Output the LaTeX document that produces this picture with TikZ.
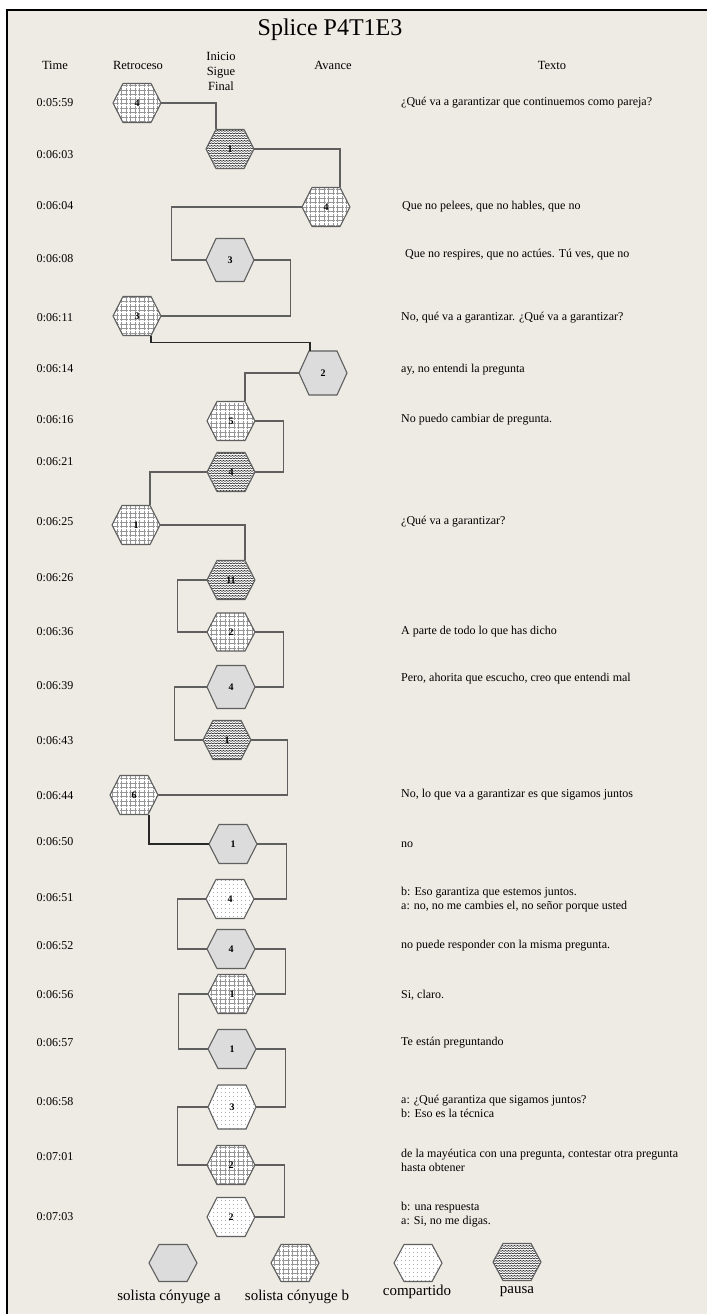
\documentclass[tikz,border=0pt]{standalone}
\usepackage{fontspec}
\setmainfont{Liberation Serif}
\usetikzlibrary{patterns,calc}
\definecolor{bgcol}{RGB}{238,235,228}
\definecolor{grayfill}{RGB}{220,220,220}
\definecolor{bordercol}{RGB}{95,95,95}
\definecolor{linecol}{RGB}{95,95,95}
\definecolor{darkline}{RGB}{40,40,40}
\definecolor{gridcol}{RGB}{150,150,150}
\pgfdeclarepatternformonly{hexgrid}{\pgfqpoint{-1pt}{-1pt}}{\pgfqpoint{5.5pt}{5.5pt}}{\pgfqpoint{4.5pt}{4.5pt}}{%
  \pgfsetlinewidth{0.4pt}\pgfsetdash{{2pt}{0.8pt}}{0pt}%
  \pgfpathmoveto{\pgfqpoint{0pt}{0pt}}\pgfpathlineto{\pgfqpoint{4.5pt}{0pt}}%
  \pgfpathmoveto{\pgfqpoint{0pt}{0pt}}\pgfpathlineto{\pgfqpoint{0pt}{4.5pt}}%
  \pgfusepath{stroke}}
\pgfdeclarepatternformonly{hexdots}{\pgfqpoint{0pt}{0pt}}{\pgfqpoint{4pt}{4pt}}{\pgfqpoint{4pt}{4pt}}{%
  \pgfpathcircle{\pgfqpoint{2pt}{2pt}}{0.45pt}\pgfusepath{fill}}
\pgfdeclarepatternformonly{hexzig}{\pgfqpoint{-0.5pt}{-0.5pt}}{\pgfqpoint{3.5pt}{2pt}}{\pgfqpoint{3pt}{2.5pt}}{%
  \pgfsetlinewidth{0.6pt}%
  \pgfpathmoveto{\pgfqpoint{0pt}{0pt}}\pgfpathlineto{\pgfqpoint{1.5pt}{1.2pt}}\pgfpathlineto{\pgfqpoint{3pt}{0pt}}%
  \pgfusepath{stroke}}
\newcommand\hexa[6]{%
  \path[#2] (#3-24,#4) -- (#3-14,#4-#6) -- (#3+14,#4-#6) -- (#3+24,#4) -- (#3+14,#4+#6) -- (#3-14,#4+#6) -- cycle;
  \node[hexlbl, minimum height=2*#6pt] (#1) at (#3,#4) {#5};}
\tikzset{
  hexline/.style={draw=bordercol, line width=1.1pt, line join=miter},
  hexA/.style={hexline, fill=grayfill},
  hexB/.style={hexline, preaction={fill=white}, preaction={pattern=hexgrid, pattern color=gridcol}},
  hexC/.style={hexline, preaction={fill=white}, preaction={pattern=hexdots, pattern color=black!75}},
  hexP/.style={hexline, preaction={fill=white}, preaction={pattern=hexzig, pattern color=black!80}},
  hexlbl/.style={rectangle, minimum width=48pt, inner sep=0pt, font=\fontsize{10}{11}\selectfont\bfseries},
  conn/.style={draw=linecol, line width=1.1pt},
  thickconn/.style={draw=darkline, line width=1.4pt},
  hdr/.style={font=\fontsize{12.5}{15}\selectfont, inner sep=0pt},
  tlbl/.style={font=\fontsize{12}{14}\selectfont, inner sep=0pt},
  txt/.style={font=\fontsize{12}{13.5}\selectfont, inner sep=0pt, anchor=west, align=left},
  leg/.style={font=\fontsize{15}{17}\selectfont, inner sep=0pt}
}
\begin{document}
\begin{tikzpicture}[x=1pt,y=-1pt]
\useasboundingbox (0,0) rectangle (707,1314);
\fill[white] (0,0) rectangle (707,1314);
\fill[bgcol] (7,10) rectangle (707,1314);
\draw[black, line width=1.6pt] (7,1314) -- (7,10) -- (707,10);
% headers
\node[font=\fontsize{24}{28}\selectfont, inner sep=0pt] (title) at (330,30) {Splice P4T1E3};
\node[hdr] (hTime) at (55,65) {Time};
\node[hdr] (hRet) at (138,65) {Retroceso};
\node[hdr, align=center] (hIni) at (221,71) {Inicio\\Sigue\\Final};
\node[hdr] (hAv) at (333,65) {Avance};
\node[hdr] (hTx) at (552,65) {Texto};
% time labels
\foreach \t/\y [count=\i] in {0:05:59/103,0:06:03/155,0:06:04/206,0:06:08/259,0:06:11/318,0:06:14/369,0:06:16/420,0:06:21/462,0:06:25/522,0:06:26/578,0:06:36/632,0:06:39/686,0:06:43/741,0:06:44/796,0:06:50/842,0:06:51/898,0:06:52/946,0:06:56/995,0:06:57/1043,0:06:58/1102,0:07:01/1157,0:07:03/1217}
  \node[tlbl] (time\i) at (55,\y) {\t};
% hexagons
\hexa{n1}{hexB}{137}{103}{4}{19.5}
\hexa{n2}{hexP}{230}{149}{1}{19.5}
\hexa{n3}{hexB}{326}{207}{4}{19.5}
\hexa{n4}{hexA}{230}{260}{3}{21.5}
\hexa{n5}{hexB}{137}{316}{3}{19.5}
\hexa{n6}{hexA}{323}{373}{2}{22}
\hexa{n7}{hexB}{231}{421}{5}{19.5}
\hexa{n8}{hexP}{231}{472}{4}{19.5}
\hexa{n9}{hexB}{136}{525}{1}{19.5}
\hexa{n10}{hexP}{231}{580}{11}{19.5}
\hexa{n11}{hexB}{231}{632}{2}{19}
\hexa{n12}{hexA}{231}{687}{4}{21.5}
\hexa{n13}{hexP}{227}{740}{1}{19.5}
\hexa{n14}{hexB}{134}{795}{6}{19.5}
\hexa{n15}{hexA}{233}{844}{1}{19.5}
\hexa{n16}{hexC}{230}{899}{4}{19.5}
\hexa{n17}{hexA}{231}{949}{4}{19.5}
\hexa{n18}{hexB}{232}{994}{1}{19.5}
\hexa{n19}{hexA}{232}{1049}{1}{19.5}
\hexa{n20}{hexC}{232}{1107}{3}{22}
\hexa{n21}{hexB}{231}{1165}{2}{19.5}
\hexa{n22}{hexC}{231}{1217}{2}{19.5}
% connectors
\draw[conn] (n1.east) -| ([xshift=-14pt]n2.north);
\draw[conn] (n2.east) -| ([xshift=14pt]n3.north);
\draw[conn] (n3.west) -- ++(-130,0) |- (n4.west);
\draw[conn] (n4.east) -- ++(36,0) |- (n5.east);
\draw[thickconn] ([xshift=14pt]n5.south) -- ++(0,6.5) -| ([xshift=-13pt]n6.north);
\draw[conn] (n6.west) -| ([xshift=14pt]n7.north);
\draw[conn] (n7.east) -- ++(28,0) |- (n8.east);
\draw[conn] (n8.west) -| ([xshift=14pt]n9.north);
\draw[conn] (n9.east) -| ([xshift=14pt]n10.north);
\draw[conn] (n10.west) -- ++(-29,0) |- (n11.west);
\draw[conn] (n11.east) -- ++(28,0) |- (n12.east);
\draw[conn] (n12.west) -- ++(-32,0) |- (n13.west);
\draw[conn] (n13.east) -- ++(36,0) |- (n14.east);
\draw[thickconn] ([xshift=15pt]n14.south) |- (n15.west);
\draw[conn] (n15.east) -- ++(29,0) |- (n16.east);
\draw[conn] (n16.west) -- ++(-28,0) |- (n17.west);
\draw[conn] (n17.east) -- ++(30,0) |- (n18.east);
\draw[conn] (n18.west) -- ++(-29,0) |- (n19.west);
\draw[conn] (n19.east) -- ++(29,0) |- (n20.east);
\draw[conn] (n20.west) -- ++(-30,0) |- (n21.west);
\draw[conn] (n21.east) -- ++(29,0) |- (n22.east);
% texts
\node[txt] (x1) at (401,103) {¿Qué va a garantizar que continuemos como pareja?};
\node[txt] (x3) at (402,207) {Que no pelees, que no hables, que no};
\node[txt] (x4) at (405,255) {Que no respires, que no actúes. Tú ves, que no};
\node[txt] (x5) at (401,318) {No, qué va a garantizar. ¿Qué va a garantizar?};
\node[txt] (x6) at (401,370) {ay, no entendi la pregunta};
\node[txt] (x7) at (401,420) {No puedo cambiar de pregunta.};
\node[txt] (x9) at (401,522) {¿Qué va a garantizar?};
\node[txt] (x11) at (401,632) {A parte de todo lo que has dicho};
\node[txt] (x12) at (401,679) {Pero, ahorita que escucho, creo que entendi mal};
\node[txt] (x14) at (401,795) {No, lo que va a garantizar es que sigamos juntos};
\node[txt] (x15) at (401,845) {no};
\node[txt] (x16) at (401,899.5) {b: Eso garantiza que estemos juntos.\\a: no, no me cambies el, no señor porque usted};
\node[txt] (x17) at (401,946) {no puede responder con la misma pregunta.};
\node[txt] (x18) at (401,995) {Si, claro.};
\node[txt] (x19) at (401,1043) {Te están preguntando};
\node[txt] (x20) at (401,1106.5) {a: ¿Qué garantiza que sigamos juntos?\\b: Eso es la técnica};
\node[txt] (x21) at (401,1160.5) {de la mayéutica con una pregunta, contestar otra pregunta\\hasta obtener};
\node[txt] (x22) at (401,1214.5) {b: una respuesta\\a: Si, no me digas.};
% legend
\hexa{l1}{hexA}{173}{1263}{}{18.5}
\hexa{l2}{hexB}{295}{1263}{}{18.5}
\hexa{l3}{hexC}{418}{1263}{}{18.5}
\hexa{l4}{hexP}{517}{1262}{}{18.5}
\node[leg] (lt1) at (169,1297) {solista cónyuge a};
\node[leg] (lt2) at (297,1297) {solista cónyuge b};
\node[leg] (lt3) at (417,1292) {compartido};
\node[leg] (lt4) at (517,1292) {pausa};
\end{tikzpicture}
\end{document}
